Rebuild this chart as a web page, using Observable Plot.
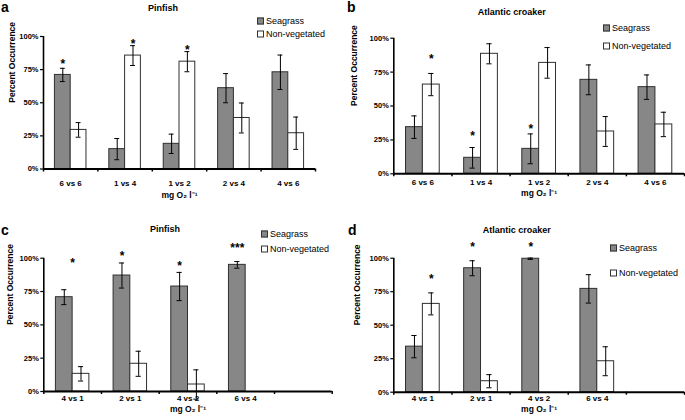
<!DOCTYPE html>
<html><head><meta charset="utf-8">
<script src="https://cdn.jsdelivr.net/npm/d3@7"></script>
<script src="https://cdn.jsdelivr.net/npm/@observablehq/plot@0.6"></script>
<style>
body{margin:0;background:#fff;font-family:"Liberation Sans",Arial,sans-serif;color:#000;}
#root{position:relative;width:685px;height:420px;overflow:hidden;}
.panel{position:absolute;}
.panel svg{position:absolute;left:0;top:0;overflow:visible;}
.letter{position:absolute;font-weight:bold;font-size:14px;line-height:12px;}
.title{position:absolute;font-weight:bold;font-size:9px;line-height:1;transform:translate(-50%,-50%);white-space:nowrap;}
.leg{position:absolute;font-size:9px;line-height:1;white-space:nowrap;transform:translateY(-50%);display:flex;align-items:center;}
.sw{display:inline-block;width:5px;height:5px;border:1px solid #333;margin-right:2px;}
</style></head>
<body><div id="root"></div>
<script>
// ---- data ----
const seriesNames = ["Seagrass", "Non-vegetated"];
const seriesFill = ["#878787", "#ffffff"];
const yTicks = [0, 25, 50, 75, 100];
const xAxisLabel = "mg O\u2082 l\u207B\u00B9";
const yAxisLabel = "Percent Occurrence";

// panel a: Pinfish
const catsA = ["6 vs 6", "1 vs 4", "1 vs 2", "2 vs 4", "4 vs 6"];
const seaA = [71, 15, 19, 61, 73];
const seaErrA = [5, 8, 7.3, 11, 13];
const nonA = [29.5, 85.6, 81, 38.5, 27];
const nonErrA = [5.5, 7.5, 7.6, 11.3, 12.2];
const starsA = [{cat: 0, over: "Seagrass", y: 82, label: "*"}, {cat: 1, over: "Non-vegetated", y: 96.5, label: "*"}, {cat: 2, over: "Non-vegetated", y: 92.4, label: "*"}];

// panel b: Atlantic croaker
const catsB = ["6 vs 6", "1 vs 4", "1 vs 2", "2 vs 4", "4 vs 6"];
const seaB = [34.4, 11.8, 18.4, 69.3, 63.9];
const seaErrB = [8.3, 7.6, 11, 11, 9];
const nonB = [65.8, 88.5, 81.8, 31.2, 36.4];
const nonErrB = [8.2, 7.4, 11.3, 11, 9];
const starsB = [{cat: 0, over: "Non-vegetated", y: 87, label: "*"}, {cat: 1, over: "Seagrass", y: 30, label: "*"}, {cat: 2, over: "Seagrass", y: 35.6, label: "*"}];

// panel c: Pinfish
const catsC = ["4 vs 1", "2 vs 1", "4 vs 2", "6 vs 4", ""];
const seaC = [70.75, 87, 78.75, 95, null];
const seaErrC = [5.6, 9.4, 10.6, 2.5, null];
const nonC = [13.25, 20.8, 5.25, null, null];
const nonErrC = [5.4, 9.4, 11, null, null];
const starsC = [{cat: 0, over: "center", y: 98.8, label: "*"}, {cat: 1, over: "Seagrass", y: 104.5, label: "*"}, {cat: 2, over: "Seagrass", y: 96.3, label: "*"}, {cat: 3, over: "Seagrass", y: 110, label: "***"}];

// panel d: Atlantic croaker
const catsD = ["4 vs 1", "2 vs 1", "4 vs 2", "6 vs 4", ""];
const seaD = [34, 92.5, 99.6, 77.1, null];
const seaErrD = [8.3, 5.6, 0.5, 10.6, null];
const nonD = [65.9, 8.2, null, 23.1, null];
const nonErrD = [8.2, 4.9, null, 10.8, null];
const starsD = [{cat: 0, over: "Non-vegetated", y: 87, label: "*"}, {cat: 1, over: "Seagrass", y: 110.7, label: "*"}, {cat: 2, over: "Seagrass", y: 110.7, label: "*"}];

// ---- drawing ----
const BW = 0.29;   // bar width in category-slot units
const CAP = 0.045; // error bar half cap width
function barX1(i, s) { return s === "Seagrass" ? i + 0.5 - BW : s === "center" ? i + 0.5 - BW / 2 : i + 0.5; }
function barXc(i, s) { return s === "center" ? i + 0.5 : barX1(i, s) + BW / 2; }

function makePanel(cfg) {
  const {cats, sea, seaErr, non, nonErr, stars, title, letter, box, m, catPad, xLabDy, yLabDx, titlePos, letterPos, legPos} = cfg;
  const rows = [];
  cats.forEach((c, i) => {
    if (sea[i] != null) rows.push({i, s: seriesNames[0], v: sea[i], e: seaErr[i]});
    if (non[i] != null) rows.push({i, s: seriesNames[1], v: non[i], e: nonErr[i]});
  });
  const n = cats.length;
  const slotTicks = d3.range(n + 1);
  const catTicks = d3.range(n).map(i => i + 0.5);
  const svg = Plot.plot({
    width: box.w, height: box.h,
    marginLeft: m.l, marginRight: m.r, marginTop: m.t, marginBottom: m.b,
    style: {fontFamily: "'Liberation Sans', Arial, sans-serif", fontWeight: "bold", fontSize: "7.5px", background: "transparent", overflow: "visible"},
    x: {domain: [0, n], axis: null},
    y: {domain: [0, 100], axis: null},
    color: {domain: seriesNames, range: seriesFill},
    marks: [
      Plot.rectY(rows, {x1: d => barX1(d.i, d.s), x2: d => barX1(d.i, d.s) + BW, y1: 0, y2: "v", fill: d => d.s, stroke: "#303030", strokeWidth: 1}),
      Plot.ruleX(rows, {x: d => barXc(d.i, d.s), y1: d => d.v - d.e, y2: d => d.v + d.e, stroke: "#000", strokeWidth: 1}),
      Plot.ruleY(rows, {x1: d => barXc(d.i, d.s) - CAP, x2: d => barXc(d.i, d.s) + CAP, y: d => d.v + d.e, stroke: "#000", strokeWidth: 1}),
      Plot.ruleY(rows, {x1: d => barXc(d.i, d.s) - CAP, x2: d => barXc(d.i, d.s) + CAP, y: d => d.v - d.e, stroke: "#000", strokeWidth: 1}),
      Plot.axisY({ticks: yTicks, tickFormat: d => d + "%", tickSize: 3, tickPadding: 2, label: null, fontSize: 7.5, strokeWidth: 1.2}),
      Plot.axisX({ticks: slotTicks, tickFormat: () => "", tickSize: 3, label: null, strokeWidth: 1.5}),
      Plot.axisX({ticks: catTicks, tickFormat: d => cats[Math.round(d - 0.5)], tickSize: 0, tickPadding: catPad, label: null, fontSize: 8}),
      Plot.ruleX([0], {stroke: "#000", strokeWidth: 1.6}),
      Plot.ruleY([0], {stroke: "#000", strokeWidth: 2}),
      Plot.text(stars, {x: d => barXc(d.cat, d.over), y: "y", text: "label", fontSize: 12, fontWeight: "bold", dy: 3.5}),
      Plot.text([xAxisLabel], {frameAnchor: "bottom", dy: xLabDy, fontSize: 8.5, fontWeight: "bold", lineAnchor: "middle"}),
      Plot.text([yAxisLabel], {frameAnchor: "left", rotate: -90, dx: yLabDx, fontSize: 8.5, fontWeight: "bold", lineAnchor: "middle"})
    ]
  });
  const div = document.createElement("div");
  div.className = "panel";
  Object.assign(div.style, {left: box.x + "px", top: box.y + "px", width: box.w + "px", height: box.h + "px"});
  div.appendChild(svg);
  const L = document.createElement("div");
  L.className = "letter"; L.textContent = letter;
  Object.assign(L.style, {left: letterPos[0] + "px", top: letterPos[1] + "px"});
  div.appendChild(L);
  const T = document.createElement("div");
  T.className = "title"; T.textContent = title;
  Object.assign(T.style, {left: titlePos[0] + "px", top: titlePos[1] + "px"});
  div.appendChild(T);
  seriesNames.forEach((s, k) => {
    const g = document.createElement("div");
    g.className = "leg";
    Object.assign(g.style, {left: legPos[0] + "px", top: legPos[1 + k] + "px"});
    const sw = document.createElement("span");
    sw.className = "sw"; sw.style.background = seriesFill[k];
    g.appendChild(sw);
    g.appendChild(document.createTextNode(s));
    div.appendChild(g);
  });
  document.getElementById("root").appendChild(div);
}

makePanel({cats: catsA, sea: seaA, seaErr: seaErrA, non: nonA, nonErr: nonErrA, stars: starsA,
  title: "Pinfish", letter: "a", box: {x: 0, y: 0, w: 340, h: 210}, m: {l: 43, r: 25, t: 36, b: 41.5},
  catPad: 11, xLabDy: 26.5, yLabDx: -31, titlePos: [163, 7.5], letterPos: [1, 1], legPos: [257, 21, 34]});
makePanel({cats: catsB, sea: seaB, seaErr: seaErrB, non: nonB, nonErr: nonErrB, stars: starsB,
  title: "Atlantic croaker", letter: "b", box: {x: 340, y: 0, w: 345, h: 210}, m: {l: 53.3, r: 1, t: 37.7, b: 36.7},
  catPad: 6, xLabDy: 19.5, yLabDx: -39.3, titlePos: [171.7, 11.7], letterPos: [7, 1], legPos: [263, 28, 45.7]});
makePanel({cats: catsC, sea: seaC, seaErr: seaErrC, non: nonC, nonErr: nonErrC, stars: starsC,
  title: "Pinfish", letter: "c", box: {x: 0, y: 210, w: 340, h: 210}, m: {l: 43.3, r: 8.3, t: 47.7, b: 29},
  catPad: 4, xLabDy: 18, yLabDx: -34, titlePos: [165, 19], letterPos: [1, 14], legPos: [261, 24, 39]});
makePanel({cats: catsD, sea: seaD, seaErr: seaErrD, non: nonD, nonErr: nonErrD, stars: starsD,
  title: "Atlantic croaker", letter: "d", box: {x: 340, y: 210, w: 345, h: 210}, m: {l: 53.3, r: 1, t: 47.7, b: 28.3},
  catPad: 3, xLabDy: 17.5, yLabDx: -36.6, titlePos: [176.7, 20], letterPos: [8, 14], legPos: [270, 38.3, 63.3]});
</script>
</body></html>
